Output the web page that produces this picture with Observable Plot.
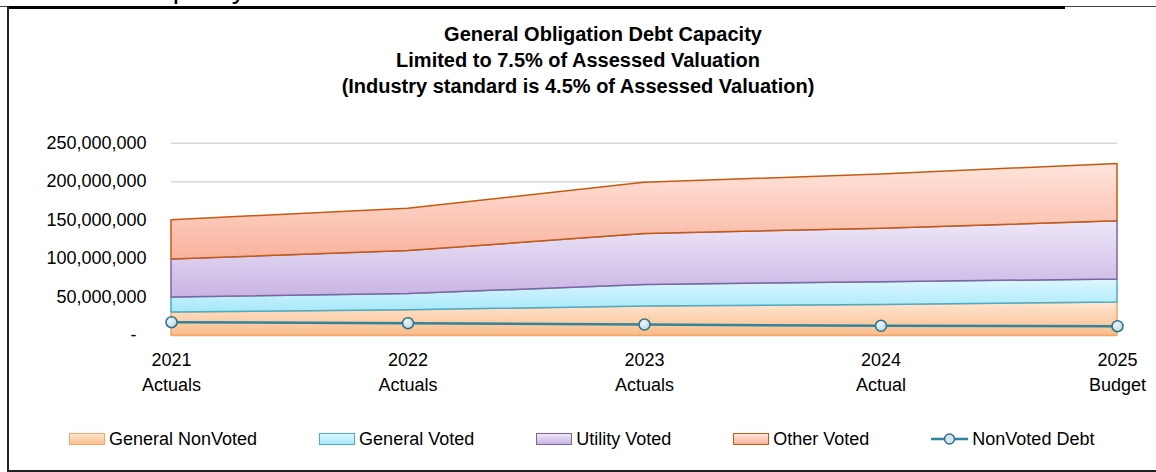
<!DOCTYPE html>
<html>
<head>
<meta charset="utf-8">
<script src="https://cdn.jsdelivr.net/npm/d3@7"></script>
<script src="https://cdn.jsdelivr.net/npm/@observablehq/plot@0.6"></script>
<style>
  html, body { margin: 0; padding: 0; background: #fff; }
  body { font-family: "Liberation Sans", Arial, sans-serif; color: #000; }
  #wrap { position: relative; width: 1156px; height: 472px; overflow: hidden; }
  .frame { position: absolute; background: #000; }
  #clipped { position: absolute; left: 70px; top: -25px; font-size: 28px; line-height: 1; white-space: nowrap; }
  #title { height: 100px; box-sizing: border-box; padding-top: 21px; text-align: center; font-weight: bold; font-size: 20px; line-height: 26px; }
  #title div { white-space: nowrap; }
  #chart svg { display: block; }
  #legend { position: absolute; left: 69px; top: 428px; display: flex; align-items: center; font-size: 18px; line-height: 22px; }
  .item { display: flex; align-items: center; margin-right: 62px; }
  .item:last-child { margin-right: 0; }
  .sw { width: 34px; height: 10px; margin-right: 4px; box-sizing: content-box; }
</style>
</head>
<body>
<div id="wrap">
  <div id="clipped">Debt Capacity</div>
  <div class="frame" style="left:0;top:5.5px;width:1156px;height:1.5px;background:#444;"></div>
  <div class="frame" style="left:7px;top:6px;width:1058px;height:2.5px;"></div>
  <div class="frame" style="left:7px;top:6px;width:2px;height:466px;background:#222;"></div>
  <div class="frame" style="left:7px;top:469.5px;width:1149px;height:2px;background:#222;"></div>
  <div id="title"></div>
  <div id="chart"></div>
  <div id="legend"></div>
</div>
<script>
// ---- data ----
const years = [2021, 2022, 2023, 2024, 2025];
const yearLabels = ["2021\nActuals", "2022\nActuals", "2023\nActuals", "2024\nActual", "2025\nBudget"];
const seriesNames = ["General NonVoted", "General Voted", "Utility Voted", "Other Voted"];
const generalNonVoted = [30e6, 33e6, 38e6, 40e6, 43e6];
const generalVoted = [19.5e6, 21e6, 28e6, 29.5e6, 30e6];
const utilityVoted = [49.5e6, 56e6, 66e6, 69.5e6, 75.5e6];
const otherVoted = [51e6, 55e6, 66.5e6, 70.5e6, 74.5e6];
const nonVotedDebt = [17.5e6, 16.2e6, 14.5e6, 12.9e6, 12.3e6];
const yTicks = [0, 50e6, 100e6, 150e6, 200e6, 250e6];
const titleLines = [
  "General Obligation Debt Capacity",
  "Limited to 7.5% of Assessed Valuation",
  "(Industry standard is 4.5% of Assessed Valuation)"
];
const lineName = "NonVoted Debt";

// ---- styles ----
const grad = {
  "General NonVoted": ["#FFE6D2", "#F9BD8A"],
  "General Voted": ["#DDF7FE", "#A6E8FA"],
  "Utility Voted": ["#EEE7F8", "#C8B4E3"],
  "Other Voted": ["#FFE4DC", "#F9B29D"]
};
const strokeCol = {
  "General NonVoted": "#F5A66A",
  "General Voted": "#4BACC6",
  "Utility Voted": "#8064A2",
  "Other Voted": "#C55A11"
};
const gradId = {};
seriesNames.forEach((s, i) => gradId[s] = "g" + i);

const valuesBySeries = [generalNonVoted, generalVoted, utilityVoted, otherVoted];
const areaData = [];
seriesNames.forEach((s, i) => years.forEach((y, j) => areaData.push({series: s, year: y, value: valuesBySeries[i][j]})));
const debtData = years.map((y, j) => ({year: y, value: nonVotedDebt[j]}));

// title
const t = document.getElementById("title");
titleLines.forEach((l, i) => {
  const d = document.createElement("div");
  d.textContent = l;
  if (i === 0) d.style.paddingLeft = "50px";
  t.appendChild(d);
});

const fmt = d3.format(",");
function defsMark() {
  const ns = "http://www.w3.org/2000/svg";
  const defs = document.createElementNS(ns, "defs");
  seriesNames.forEach(s => {
    const lg = document.createElementNS(ns, "linearGradient");
    lg.setAttribute("id", gradId[s]);
    lg.setAttribute("x1", "0"); lg.setAttribute("y1", "0");
    lg.setAttribute("x2", "0"); lg.setAttribute("y2", "1");
    [[0, grad[s][0]], [1, grad[s][1]]].forEach(([o, c]) => {
      const st = document.createElementNS(ns, "stop");
      st.setAttribute("offset", o);
      st.setAttribute("stop-color", c);
      lg.appendChild(st);
    });
    defs.appendChild(lg);
  });
  const rg = document.createElementNS(ns, "radialGradient");
  rg.setAttribute("id", "dotg");
  rg.setAttribute("cx", "0.4"); rg.setAttribute("cy", "0.35"); rg.setAttribute("r", "0.7");
  [[0, "#EEF6F9"], [1, "#B9D4DF"]].forEach(([o, c]) => {
    const st = document.createElementNS(ns, "stop");
    st.setAttribute("offset", o);
    st.setAttribute("stop-color", c);
    rg.appendChild(st);
  });
  defs.appendChild(rg);
  return defs;
}

const plot = Plot.plot({
  width: 1156,
  height: 300,
  marginLeft: 171,
  marginRight: 39,
  marginTop: 42.7,
  marginBottom: 64.8,
  style: {fontFamily: '"Liberation Sans", Arial, sans-serif', fontSize: "18px", color: "#000", background: "transparent"},
  x: {domain: [2021, 2025]},
  y: {domain: [0, 250e6]},
  color: {type: "identity"},
  marks: [
    defsMark,
    Plot.ruleY(yTicks, {x1: 2021, x2: 2025, stroke: "#D9D9D9", strokeWidth: 1.5}),
    Plot.areaY(areaData, {
      x: "year", y: "value", z: "series",
      fill: d => "url(#" + gradId[d.series] + ")",
      stroke: d => strokeCol[d.series],
      strokeWidth: 1.5
    }),
    Plot.line(debtData, {x: "year", y: "value", stroke: "#31849B", strokeWidth: 2.5}),
    Plot.dot(debtData, {x: "year", y: "value", r: 5.5, fill: "url(#dotg)", stroke: "#2E7488", strokeWidth: 1.5}),
    Plot.axisY({ticks: yTicks, tickSize: 0, tickPadding: 25, fontSize: 18, label: null,
      tickFormat: d => d === 0 ? "-\u00a0\u00a0" : fmt(d)}),
    Plot.axisX({ticks: years, tickSize: 0, tickPadding: 13.5, fontSize: 18, label: null, lineHeight: 1.35,
      tickFormat: d => yearLabels[years.indexOf(d)]})
  ]
});
document.getElementById("chart").appendChild(plot);

// legend
const lg = document.getElementById("legend");
seriesNames.forEach(s => {
  const it = document.createElement("div");
  it.className = "item";
  const sw = document.createElement("div");
  sw.className = "sw";
  sw.style.background = `linear-gradient(${grad[s][0]}, ${grad[s][1]})`;
  sw.style.border = `1.5px solid ${strokeCol[s]}`;
  it.appendChild(sw);
  const tx = document.createElement("span");
  tx.textContent = s;
  it.appendChild(tx);
  lg.appendChild(it);
});
{
  const it = document.createElement("div");
  it.className = "item";
  it.innerHTML = `<svg width="37" height="14" style="margin-right:4px;display:block"><line x1="0" y1="7" x2="37" y2="7" stroke="#31849B" stroke-width="2.5"/><circle cx="18.5" cy="7" r="5" fill="#D3E5EC" stroke="#2E7488" stroke-width="1.5"/></svg>`;
  const tx = document.createElement("span");
  tx.textContent = lineName;
  it.appendChild(tx);
  lg.appendChild(it);
}
</script>
</body>
</html>
